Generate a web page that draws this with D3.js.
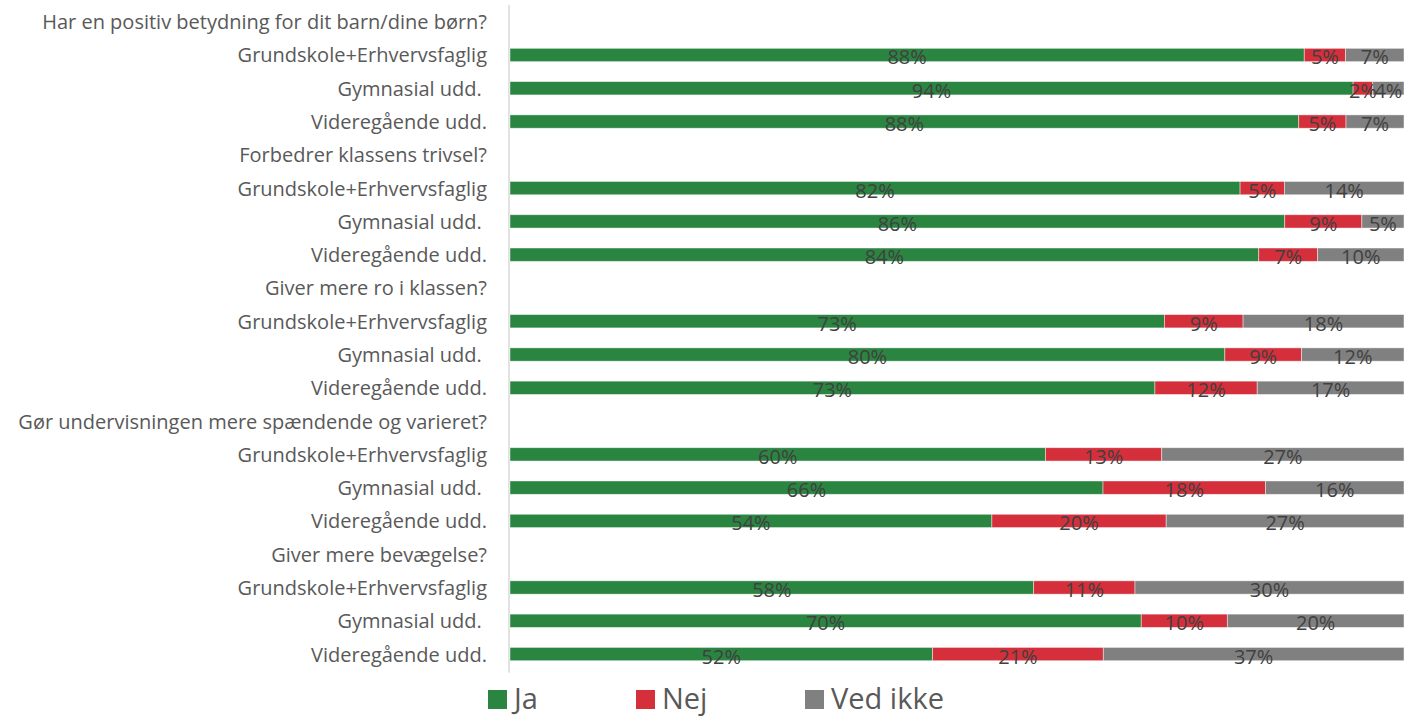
<!DOCTYPE html>
<html><head><meta charset="utf-8">
<script src="https://cdn.jsdelivr.net/npm/d3@7/dist/d3.min.js"></script>
<style>
html,body{margin:0;padding:0;background:#fff;}
svg{display:block;font-family:"Open Sans","Noto Sans",sans-serif;}
text{white-space:pre;}
</style></head>
<body><svg id="chart" width="1404" height="718"></svg>
<script>
const questions = [
  "Har en positiv betydning for dit barn/dine børn?",
  "Forbedrer klassens trivsel?",
  "Giver mere ro i klassen?",
  "Gør undervisningen mere spændende og varieret?",
  "Giver mere bevægelse?"
];
const groups = ["Grundskole+Erhvervsfaglig", "Gymnasial udd. ", "Videregående udd."];
const seriesNames = ["Ja", "Nej", "Ved ikke"];
const ja      = [88.4, 94.4, 88.4, 82.4, 86.4, 84.0, 73.2, 80.2, 72.5, 59.9, 66.4, 53.9, 58.4, 70.4, 52];
const nej     = [4.6, 2.2, 5.3, 5.0, 8.6, 6.6, 8.8, 8.6, 11.5, 13.0, 18.2, 19.5, 11.3, 9.6, 21];
const vedIkke = [6.5, 3.5, 6.5, 13.5, 4.7, 9.7, 18.0, 11.5, 16.5, 27.1, 15.5, 26.6, 30.0, 19.7, 37];
const colors = ["#2a8541", "#d52f3b", "#808080"];

const rows = [];
questions.forEach((q, qi) => {
  rows.push({id: "q" + qi, label: q, header: true});
  groups.forEach((g, gi) => {
    const i = qi * 3 + gi;
    rows.push({id: "r" + i, label: g, header: false, vals: [ja[i], nej[i], vedIkke[i]]});
  });
});

const svg = d3.select("#chart");
const x = d3.scaleLinear().domain([0, 1]).range([510, 1404]);
const y = d3.scaleBand().domain(rows.map(r => r.id)).range([5.06, 670.7]).paddingInner(0.6).paddingOuter(0.3);

// axis line
svg.append("line").attr("x1", 509).attr("x2", 509)
  .attr("y1", y.range()[0]).attr("y2", y.range()[1] + 2)
  .attr("stroke", "#d9d9d9").attr("stroke-width", 1.5);

// category labels
svg.append("g").selectAll("text").data(rows).join("text")
  .attr("x", 487).attr("y", d => y(d.id) + y.bandwidth() / 2)
  .attr("text-anchor", "end").attr("dominant-baseline", "central")
  .attr("fill", "#595959").attr("font-size", 20)
  .text(d => d.label);

// bars
const dataRows = rows.filter(r => !r.header);
const segs = [];
dataRows.forEach(r => {
  const tot = d3.sum(r.vals);
  let c = 0;
  r.vals.forEach((v, k) => {
    segs.push({id: r.id, k, v, x0: c / tot, x1: (c + v) / tot});
    c += v;
  });
});
svg.append("g").selectAll("rect").data(segs).join("rect")
  .attr("x", d => x(d.x0)).attr("width", d => x(d.x1) - x(d.x0))
  .attr("y", d => y(d.id)).attr("height", y.bandwidth())
  .attr("fill", d => colors[d.k])
  .attr("stroke", "#ffffff").attr("stroke-opacity", 0.55).attr("stroke-width", 0.8);

svg.append("g").selectAll("text").data(segs).join("text")
  .attr("x", d => (x(d.x0) + x(d.x1)) / 2)
  .attr("y", d => y(d.id) + y.bandwidth() / 2 + 2)
  .attr("text-anchor", "middle").attr("dominant-baseline", "central")
  .attr("fill", "#404040").attr("font-size", 20)
  .text(d => Math.round(d.v) + "%");

// legend
const legX = [488, 636, 805];
const lg = svg.append("g").selectAll("g").data(seriesNames).join("g")
  .attr("transform", (d, i) => `translate(${legX[i]},0)`);
lg.append("rect").attr("x", 0).attr("y", 690).attr("width", 19).attr("height", 19)
  .attr("fill", (d, i) => colors[i]);
lg.append("text").attr("x", 26).attr("y", 709)
  .attr("font-size", 29).attr("fill", "#595959").text(d => d);
</script>
</body></html>
